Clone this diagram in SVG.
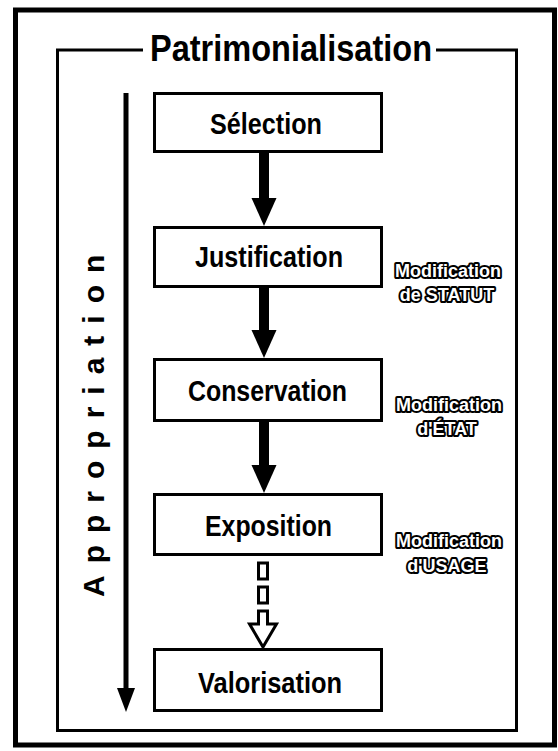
<svg xmlns="http://www.w3.org/2000/svg" width="558" height="751" viewBox="0 0 558 751">
<style>
.frame{fill:none;stroke:#000}
.box{fill:#fff;stroke:#000;stroke-width:3}
.lbl{font-family:"Liberation Sans",Arial,sans-serif;font-weight:bold;font-size:29px;fill:#000;text-anchor:middle}
.side{font-family:"Liberation Sans",Arial,sans-serif;font-weight:bold;font-size:18px;fill:#fff;stroke:#000;stroke-width:4;stroke-linejoin:round;paint-order:stroke;text-anchor:middle}
.title{font-family:"Liberation Sans",Arial,sans-serif;font-weight:bold;font-size:37px;fill:#000}
.vert{font-family:"Liberation Sans",Arial,sans-serif;font-weight:bold;font-size:30px;fill:#000;letter-spacing:12px}
</style>
<rect width="558" height="751" fill="#fff"/>
<g id="frame">
<rect class="frame" x="15.5" y="10" width="539" height="735" stroke-width="5"/>
<path class="frame" d="M143 50 H57.5 V730.5 H516.5 V50 H436" stroke-width="3"/>
<text class="title" x="150" y="61" textLength="282" lengthAdjust="spacingAndGlyphs">Patrimonialisation</text>
</g>
<g id="appropriation">
<line x1="126" y1="93" x2="126" y2="692" stroke="#000" stroke-width="5"/>
<polygon points="117,688 135,688 126,712" fill="#000"/>
<text class="vert" transform="translate(104,597) rotate(-90)" x="0" y="0">Appropriation</text>
</g>
<g id="connectors">
<rect x="259" y="153" width="10" height="47" fill="#000"/>
<polygon points="251.5,198 276.5,198 264,226" fill="#000"/>
<rect x="259" y="288" width="10" height="44" fill="#000"/>
<polygon points="251.5,330 276.5,330 264,358" fill="#000"/>
<rect x="259" y="422" width="10" height="45" fill="#000"/>
<polygon points="251.5,465 276.5,465 264,493" fill="#000"/>
<g fill="#fff" stroke="#000" stroke-width="3">
<rect x="258.5" y="563" width="9" height="16"/>
<rect x="258.5" y="587" width="9" height="16"/>
<polygon points="258.5,611 267.5,611 267.5,624 276.5,624 263,647 249.5,624 258.5,624" stroke-linejoin="miter"/>
</g>
</g>
<g id="selection">
<rect class="box" x="154.5" y="93.5" width="227" height="58"/>
<text class="lbl" x="266" y="134" textLength="112" lengthAdjust="spacingAndGlyphs">Sélection</text>
</g>
<g id="justification">
<rect class="box" x="154.5" y="227.5" width="227" height="59"/>
<text class="lbl" x="269" y="267" textLength="148" lengthAdjust="spacingAndGlyphs">Justification</text>
</g>
<g id="conservation">
<rect class="box" x="154.5" y="359.5" width="227" height="61"/>
<text class="lbl" x="267.5" y="401" textLength="159" lengthAdjust="spacingAndGlyphs">Conservation</text>
</g>
<g id="exposition">
<rect class="box" x="154.5" y="494.5" width="227" height="60"/>
<text class="lbl" x="268.5" y="536" textLength="127" lengthAdjust="spacingAndGlyphs">Exposition</text>
</g>
<g id="valorisation">
<rect class="box" x="154.5" y="649.5" width="227" height="61"/>
<text class="lbl" x="270" y="693" textLength="144" lengthAdjust="spacingAndGlyphs">Valorisation</text>
</g>
<g id="statut">
<text class="side" x="448" y="277">Modification</text>
<text class="side" x="447" y="301">de STATUT</text>
</g>
<g id="etat">
<text class="side" x="449" y="411">Modification</text>
<text class="side" x="447" y="435">d'ÉTAT</text>
</g>
<g id="usage">
<text class="side" x="449" y="547">Modification</text>
<text class="side" x="447" y="572">d'USAGE</text>
</g>
</svg>
